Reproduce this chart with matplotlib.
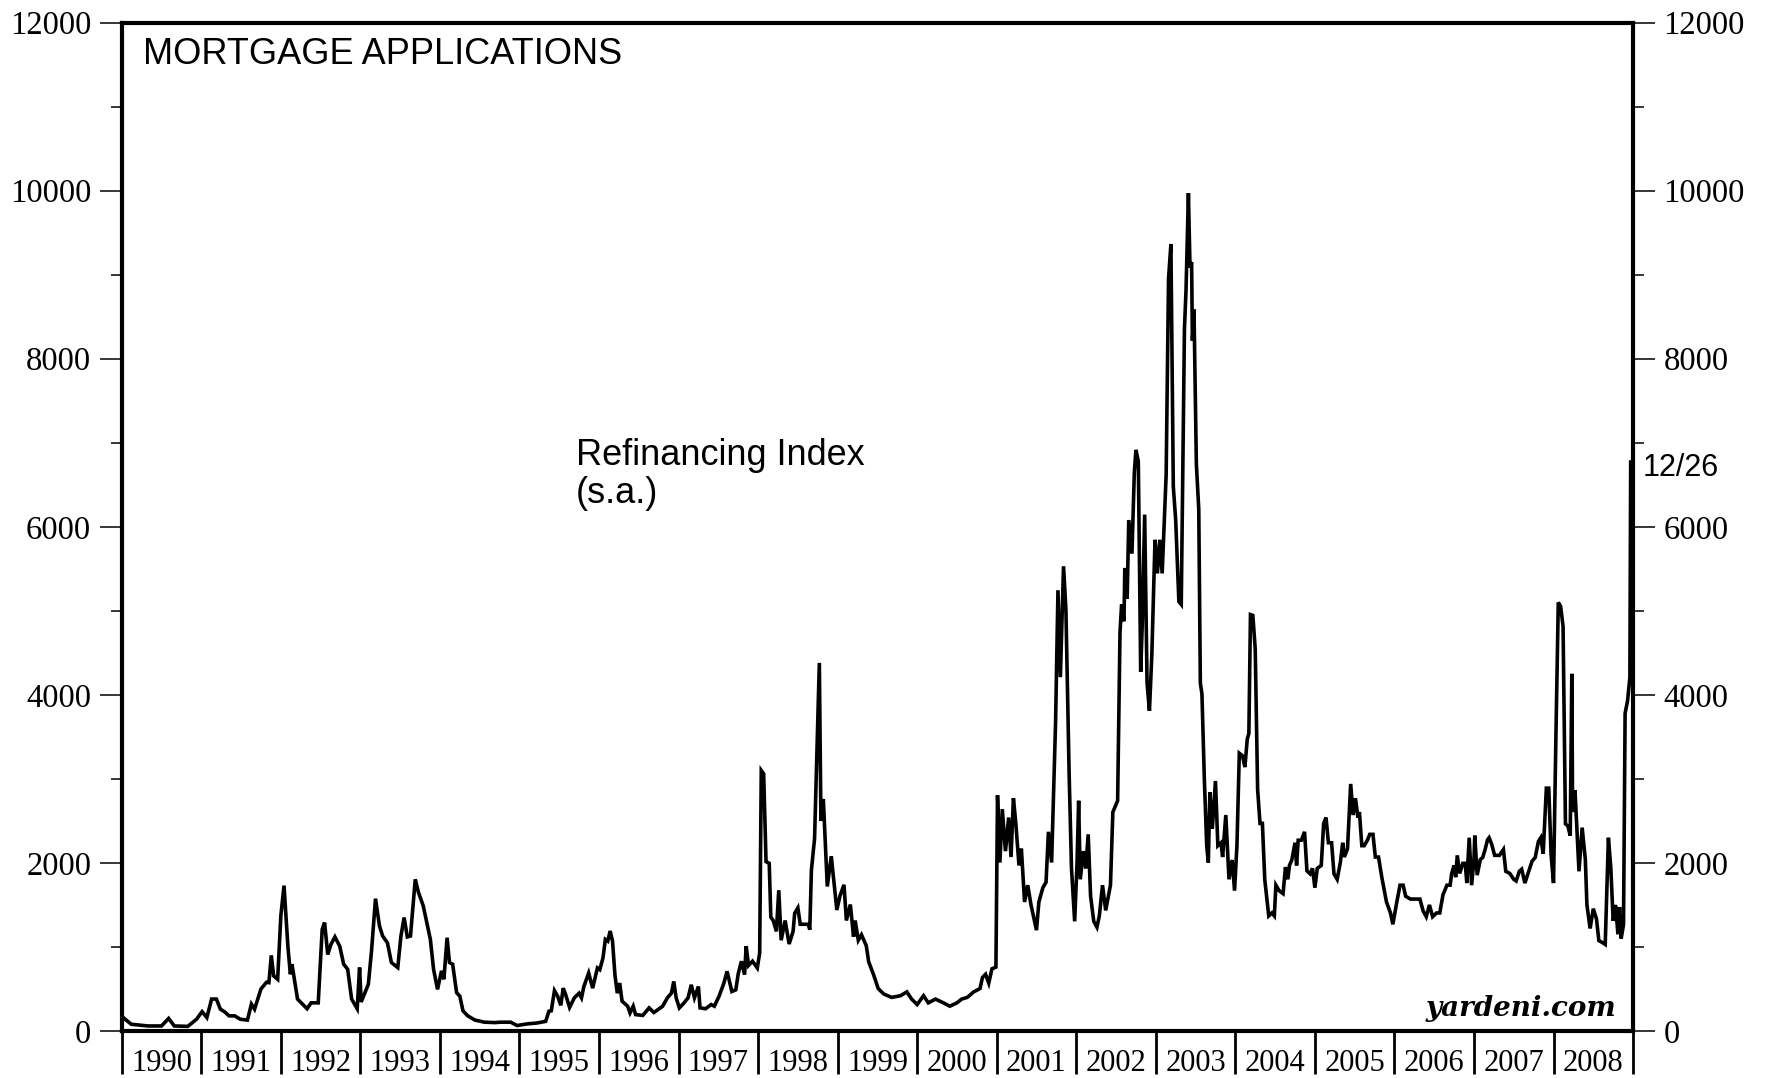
import matplotlib
matplotlib.use("Agg")
import matplotlib.pyplot as plt
from matplotlib.ticker import FixedLocator, FixedFormatter, NullFormatter

# ---- data (decimal year, refinancing index s.a.) ----
years = [
    1990.00, 1990.03, 1990.12, 1990.33, 1990.50, 1990.59, 1990.66, 1990.83, 1990.94,
    1991.01, 1991.07, 1991.13, 1991.19, 1991.24, 1991.29, 1991.35, 1991.42, 1991.49,
    1991.58, 1991.63, 1991.67, 1991.75, 1991.82, 1991.85, 1991.88, 1991.91, 1991.96,
    1992.00, 1992.04, 1992.07, 1992.09, 1992.12, 1992.14, 1992.21, 1992.33, 1992.38,
    1992.47, 1992.52, 1992.55, 1992.59, 1992.63, 1992.68, 1992.74, 1992.79, 1992.84,
    1992.89, 1992.96, 1992.99, 1993.01, 1993.10, 1993.14, 1993.19, 1993.24, 1993.28,
    1993.34, 1993.39, 1993.47, 1993.51, 1993.55, 1993.59, 1993.63, 1993.69, 1993.73,
    1993.79, 1993.88, 1993.92, 1993.97, 1994.02, 1994.05, 1994.09, 1994.12, 1994.16,
    1994.21, 1994.25, 1994.29, 1994.35, 1994.44, 1994.56, 1994.69,
    1994.76, 1994.89, 1994.97, 1995.10, 1995.22, 1995.33, 1995.37, 1995.40, 1995.44,
    1995.48, 1995.52, 1995.55, 1995.58, 1995.63, 1995.69, 1995.75, 1995.78, 1995.81,
    1995.87, 1995.92, 1995.98, 1996.01, 1996.05, 1996.08, 1996.11, 1996.14, 1996.17,
    1996.20, 1996.23, 1996.26, 1996.29, 1996.36, 1996.39, 1996.43, 1996.46, 1996.55,
    1996.63, 1996.69, 1996.80, 1996.86, 1996.91, 1996.94, 1996.97, 1997.01, 1997.07,
    1997.12, 1997.16, 1997.20, 1997.25, 1997.27, 1997.34, 1997.41, 1997.45, 1997.51,
    1997.57, 1997.61, 1997.67, 1997.72, 1997.75, 1997.79, 1997.83, 1997.85, 1997.88,
    1997.93, 1997.99,
    1998.02, 1998.04, 1998.07, 1998.10, 1998.14, 1998.16, 1998.19, 1998.23, 1998.26,
    1998.29, 1998.34, 1998.39, 1998.44, 1998.46, 1998.50, 1998.53, 1998.63, 1998.65,
    1998.67, 1998.71, 1998.77, 1998.79, 1998.82, 1998.87, 1998.92, 1998.99, 1999.03,
    1999.08, 1999.11, 1999.16, 1999.20, 1999.22, 1999.26, 1999.30, 1999.36, 1999.39,
    1999.45, 1999.51, 1999.58, 1999.68, 1999.79, 1999.87, 1999.93, 2000.00, 2000.08,
    2000.14, 2000.23, 2000.33, 2000.41, 2000.50, 2000.56, 2000.63, 2000.71, 2000.79,
    2000.82, 2000.86, 2000.90, 2000.94, 2000.99,
    2001.01, 2001.04, 2001.07, 2001.11, 2001.15, 2001.18, 2001.21, 2001.24, 2001.28,
    2001.31, 2001.35, 2001.39, 2001.43, 2001.50, 2001.53, 2001.58, 2001.62, 2001.65,
    2001.69, 2001.74, 2001.77, 2001.80, 2001.84, 2001.87, 2001.91, 2001.94, 2001.98,
    2002.01, 2002.03, 2002.05, 2002.09, 2002.12, 2002.15, 2002.18, 2002.22, 2002.26,
    2002.29, 2002.33, 2002.37, 2002.43, 2002.46, 2002.52, 2002.55, 2002.57, 2002.60,
    2002.61, 2002.64, 2002.66, 2002.70, 2002.73, 2002.75, 2002.78, 2002.81, 2002.83,
    2002.86, 2002.89, 2002.92, 2002.95, 2002.99, 2003.02, 2003.05, 2003.08, 2003.13,
    2003.16, 2003.19, 2003.22, 2003.25, 2003.29, 2003.32, 2003.36, 2003.38, 2003.41,
    2003.43, 2003.45, 2003.46, 2003.48, 2003.51, 2003.54, 2003.56, 2003.58, 2003.61,
    2003.64, 2003.66, 2003.68, 2003.71, 2003.75, 2003.78, 2003.82, 2003.84, 2003.88,
    2003.92, 2003.96, 2003.99, 2004.02, 2004.05, 2004.09, 2004.12, 2004.15, 2004.17,
    2004.19, 2004.22, 2004.25, 2004.28, 2004.31, 2004.34, 2004.37,
    2004.42, 2004.46, 2004.49, 2004.51, 2004.55, 2004.60, 2004.63, 2004.66, 2004.68,
    2004.71, 2004.75, 2004.77, 2004.79, 2004.83, 2004.87, 2004.90, 2004.94, 2004.97,
    2005.00, 2005.03, 2005.08, 2005.11, 2005.14, 2005.17, 2005.21, 2005.24, 2005.28,
    2005.32, 2005.35, 2005.37, 2005.41, 2005.45, 2005.48, 2005.51, 2005.54, 2005.56,
    2005.59, 2005.62, 2005.66, 2005.69, 2005.73, 2005.76, 2005.80, 2005.84, 2005.90,
    2005.95, 2005.98, 2006.03, 2006.07, 2006.11, 2006.14, 2006.20, 2006.27,
    2006.32, 2006.36, 2006.40, 2006.44, 2006.48, 2006.53, 2006.57, 2006.61, 2006.66,
    2006.70, 2006.72, 2006.75, 2006.77, 2006.79, 2006.82, 2006.86, 2006.89, 2006.91,
    2006.94, 2006.97, 2007.00, 2007.01, 2007.04, 2007.08, 2007.11, 2007.14, 2007.17,
    2007.19, 2007.22, 2007.26, 2007.32, 2007.37, 2007.40, 2007.45, 2007.50, 2007.53,
    2007.57, 2007.60, 2007.64, 2007.68, 2007.73, 2007.77, 2007.81, 2007.84, 2007.87,
    2007.91, 2007.94, 2007.97, 2008.00, 2008.03, 2008.06, 2008.09, 2008.12, 2008.15,
    2008.18, 2008.21, 2008.23, 2008.24, 2008.27, 2008.32, 2008.36, 2008.40, 2008.42,
    2008.46, 2008.50, 2008.54, 2008.57, 2008.61, 2008.65, 2008.69, 2008.72, 2008.75,
    2008.78, 2008.81, 2008.83, 2008.85, 2008.88, 2008.90, 2008.93, 2008.96, 2008.97,
]

values = [
    180, 150, 80, 60, 60, 150, 60, 55, 140,
    230, 160, 380, 380, 260, 230, 180, 180, 140,
    130, 320, 260, 500, 580, 575, 900, 655, 615,
    1370, 1730, 1290, 990, 675, 795, 380, 265, 335,
    335, 1210, 1290, 910, 1030, 1120, 1010, 795, 735,
    380, 265, 755, 345, 555, 950, 1575, 1250, 1130,
    1050, 815, 755, 1130, 1350, 1120, 1130, 1805, 1650,
    1490, 1090, 735, 495, 715, 615, 1110, 815, 795,
    455, 415, 240, 180, 130, 105, 100,
    105, 105, 65, 85, 95, 115, 235, 240, 480,
    415, 305, 510, 435, 280, 395, 450, 395, 530,
    690, 510, 750, 730, 870, 1090, 1070, 1190, 1070,
    670, 450, 570, 355, 295, 215, 295, 195, 185,
    275, 220, 295, 395, 450, 590, 395, 275, 335,
    395, 550, 395, 530, 275, 265, 315, 295, 415,
    570, 710, 470, 490, 680, 830, 670, 1010, 780,
    830, 750,
    930, 3100, 3060, 2015, 1995, 1355, 1315, 1185, 1675,
    1080, 1315, 1035, 1185, 1400, 1465, 1270, 1270, 1205,
    1910, 2290, 4380, 2500, 2760, 1720, 2080, 1440, 1610,
    1740, 1315, 1505, 1120, 1315, 1080, 1145, 1015, 825,
    675, 505, 440, 400, 420, 465, 380, 315, 420,
    335, 380, 335, 295, 335, 380, 400, 465, 505,
    635, 675, 570, 740, 760,
    2805, 2005, 2640, 2140, 2540, 2070, 2770, 2470, 1970,
    2170, 1535, 1735, 1505, 1200, 1535, 1705, 1770, 2370,
    2005, 3675, 5245, 4210, 5530, 5010, 3075, 1935, 1305,
    2005, 2740, 1805, 2140, 1935, 2340, 1605, 1305, 1235,
    1370, 1735, 1435, 1735, 2605, 2740, 4745, 5075, 4875,
    5510, 5145, 6080, 5680, 6645, 6915, 6780, 4275, 4845,
    6145, 4140, 3810, 4475, 5845, 5445, 5845, 5445, 6615,
    8950, 9365, 6480, 6080, 5110, 5075, 8350, 8820, 9970,
    9085, 9150, 8215, 8585, 6745, 6210, 4140, 4010, 3005,
    2205, 2005, 2840, 2405, 2975, 2205, 2240, 2070, 2570,
    1805, 2035, 1670, 2205, 3305, 3275, 3140, 3475, 3540,
    4955, 4945, 4545, 2875, 2470, 2470, 1800,
    1370, 1405, 1370, 1735, 1670, 1635, 1950, 1805, 1970,
    2035, 2240, 1970, 2270, 2270, 2370, 1905, 1870, 1935,
    1705, 1935, 1970, 2470, 2540, 2240, 2240, 1870, 1805,
    2005, 2240, 2070, 2170, 2940, 2570, 2770, 2540, 2605,
    2205, 2205, 2270, 2340, 2340, 2070, 2070, 1835, 1535,
    1405, 1270, 1535, 1735, 1735, 1605, 1570, 1570,
    1570, 1430, 1360, 1500, 1360, 1405, 1405, 1620, 1735,
    1735, 1875, 1970, 1830, 2090, 1875, 1995, 1995, 1760,
    2300, 1735, 2040, 2325, 1855, 2040, 2065, 2160, 2275,
    2300, 2230, 2090, 2090, 2160, 1900, 1875, 1805, 1785,
    1900, 1925, 1760, 1875, 2020, 2065, 2255, 2300, 2110,
    2890, 2890, 2090, 1760, 3500, 5100, 5050, 4815, 2465,
    2440, 2325, 4250, 2605, 2865, 1900, 2420, 2040, 1500,
    1220, 1455, 1335, 1075, 1055, 1030, 2300, 1945, 1310,
    1500, 1150, 1475, 1100, 1265, 3780, 3925, 4205, 6770,
]

year_labels = [str(y) for y in range(1990, 2009)]
y_major = [0, 2000, 4000, 6000, 8000, 10000, 12000]
y_minor = [1000, 3000, 5000, 7000, 9000, 11000]

title_text = "MORTGAGE APPLICATIONS"
series_label = ["Refinancing Index", "(s.a.)"]
last_date_label = "12/26"
source_text = "yardeni.com"

# ---- figure ----
plt.rcParams['font.family'] = ['Liberation Serif', 'DejaVu Serif']
fig = plt.figure(figsize=(17.67, 10.78), dpi=100)
ax = fig.add_axes([0.0689, 0.0436, 0.8553, 0.9355])

ax.plot(years, values, color='black', lw=2.6, solid_joinstyle='miter')

ax.set_xlim(1990, 2009)
ax.set_ylim(0, 12000)

for s in ax.spines.values():
    s.set_linewidth(3.0)
    s.set_color('black')

# y axis (both sides)
ax.yaxis.set_major_locator(FixedLocator(y_major))
ax.yaxis.set_minor_locator(FixedLocator(y_minor))
ax.yaxis.set_major_formatter(FixedFormatter([str(v) for v in y_major]))
ax.yaxis.set_minor_formatter(NullFormatter())
ax.tick_params(axis='y', which='major', direction='out', length=16, width=1.1,
               left=True, right=True, labelleft=True, labelright=True,
               labelsize=23.5, pad=6)
ax.tick_params(axis='y', which='minor', direction='out', length=8, width=1.1,
               left=True, right=True)

# x axis: long ticks at year boundaries, labels centred in each year
year_edges = list(range(1990, 2010))
year_mids = [y + 0.5 for y in range(1990, 2009)]
ax.xaxis.set_major_locator(FixedLocator(year_edges))
ax.xaxis.set_major_formatter(NullFormatter())
ax.xaxis.set_minor_locator(FixedLocator(year_mids))
ax.xaxis.set_minor_formatter(FixedFormatter(year_labels))
ax.tick_params(axis='x', which='major', direction='out', length=31, width=2.0)
ax.tick_params(axis='x', which='minor', length=0, labelsize=22, pad=13)

# texts
ax.text(0.0141, 0.9589, title_text, transform=ax.transAxes, ha='left', va='baseline',
        fontsize=26, family='Liberation Sans')
ax.text(0.3006, 0.5612, series_label[0], transform=ax.transAxes, ha='left', va='baseline',
        fontsize=26, family='Liberation Sans')
ax.text(0.3006, 0.5236, series_label[1], transform=ax.transAxes, ha='left', va='baseline',
        fontsize=26, family='Liberation Sans')
ax.text(1.0066, 0.5503, last_date_label, transform=ax.transAxes, ha='left', va='baseline',
        fontsize=22, family='Liberation Sans', clip_on=False)
ax.text(0.9888, 0.0149, source_text, transform=ax.transAxes, ha='right', va='baseline',
        fontsize=20, family='DejaVu Serif', fontweight='bold', style='italic')

fig.savefig('out.png', dpi=100)
